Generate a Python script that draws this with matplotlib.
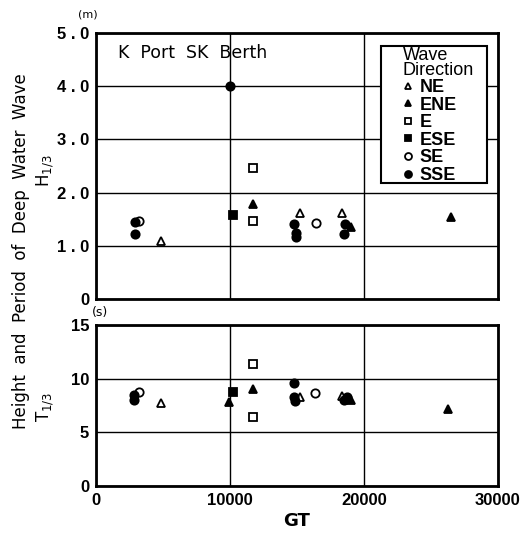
import matplotlib
matplotlib.use("Agg")
import matplotlib.pyplot as plt
from matplotlib.lines import Line2D
from matplotlib.patches import Rectangle

NARROW = ["Liberation Sans", "DejaVu Sans"]

# wave directions and marker styles
directions = ["NE", "ENE", "E", "ESE", "SE", "SSE"]
markers = {"NE": ("^", "white"), "ENE": ("^", "black"), "E": ("s", "white"),
           "ESE": ("s", "black"), "SE": ("o", "white"), "SSE": ("o", "black")}

# H1/3 (m) vs GT
h_gt = {
    "NE": [4850, 15200, 18350],
    "ENE": [11700, 19000, 26500],
    "E": [11700, 11700],
    "ESE": [10200],
    "SE": [3200, 16400],
    "SSE": [2900, 2900, 10000, 14800, 14900, 14900, 18600, 18500],
}
h_val = {
    "NE": [1.09, 1.62, 1.62],
    "ENE": [1.79, 1.35, 1.54],
    "E": [2.46, 1.47],
    "ESE": [1.58],
    "SE": [1.47, 1.43],
    "SSE": [1.45, 1.22, 4.0, 1.41, 1.25, 1.17, 1.42, 1.22],
}

# T1/3 (s) vs GT
t_gt = {
    "NE": [4850, 15200, 18350],
    "ENE": [9900, 11750, 19000, 26300],
    "E": [11700, 11700],
    "ESE": [10250],
    "SE": [3200, 16350],
    "SSE": [2800, 2800, 14800, 14800, 14850, 18700, 18500],
}
t_val = {
    "NE": [7.7, 8.3, 8.4],
    "ENE": [7.8, 9.0, 8.0, 7.2],
    "E": [11.4, 6.4],
    "ESE": [8.74],
    "SE": [8.74, 8.65],
    "SSE": [8.47, 8.0, 9.6, 8.3, 7.9, 8.3, 8.0],
}

fig = plt.figure(figsize=(5.2, 5.34), dpi=100)
ax1 = fig.add_axes([0.1846, 0.440, 0.773, 0.498])
ax2 = fig.add_axes([0.1846, 0.0899, 0.773, 0.3015])


def draw(ax, gt, val):
    for d in directions:
        m, fc = markers[d]
        ax.plot(gt[d], val[d], linestyle="none", marker=m, markersize=6,
                markerfacecolor=fc, markeredgecolor="black", markeredgewidth=1.3,
                zorder=3)
    ax.grid(True, color="black", linewidth=1.0)
    ax.set_axisbelow(True)
    for s in ax.spines.values():
        s.set_linewidth(2)
    ax.tick_params(length=0, pad=5)
    for lab in ax.get_xticklabels() + ax.get_yticklabels():
        lab.set_fontweight("bold")
        lab.set_family(NARROW)
        lab.set_fontsize(12)


ax1.set_xlim(0, 30000)
ax1.set_ylim(0, 5.0)
ax1.set_xticks([0, 10000, 20000, 30000])
ax1.set_yticks([0, 1, 2, 3, 4, 5])
ax1.set_yticklabels(["0", "1 . 0", "2 . 0", "3 . 0", "4 . 0", "5 . 0"])
ax1.set_xticklabels([])
draw(ax1, h_gt, h_val)
ax1.text(0.055, 0.925, "K  Port  SK  Berth", transform=ax1.transAxes,
         fontsize=12.5, va="center", ha="left")

# legend box drawn separately (wide side margins as in the original)
ax1.add_patch(Rectangle((0.709, 0.436), 0.264, 0.515, transform=ax1.transAxes,
                        facecolor="white", edgecolor="black", linewidth=1.5,
                        zorder=4))
handles = [Line2D([], [], linestyle="none", marker=markers[d][0], markersize=5,
                  markerfacecolor=markers[d][1], markeredgecolor="black",
                  markeredgewidth=1.3) for d in directions]
leg = ax1.legend(handles, directions, title="Wave\nDirection", loc="upper left",
                 bbox_to_anchor=(0.763, 0.948), frameon=False,
                 prop={"family": NARROW, "size": 13, "weight": "bold"},
                 title_fontproperties={"family": NARROW, "size": 13},
                 handlelength=0.6, handletextpad=0.35, labelspacing=0.03,
                 borderpad=0.0, alignment="left", borderaxespad=0)
leg.get_title().set_linespacing(0.82)
leg.set_zorder(5)

ax2.set_xlim(0, 30000)
ax2.set_ylim(0, 15)
ax2.set_xticks([0, 10000, 20000, 30000])
ax2.set_yticks([0, 5, 10, 15])
draw(ax2, t_gt, t_val)
ax2.set_xlabel("GT", fontsize=13, fontweight="bold", labelpad=3)

fig.text(0.168, 0.972, "(m)", fontsize=8, ha="center", va="center")
fig.text(0.192, 0.414, "(s)", fontsize=9, ha="center", va="center")
fig.text(0.04, 0.53, "Height  and  Period  of  Deep  Water  Wave", rotation=90,
         fontsize=12, ha="center", va="center")
fig.text(0.087, 0.68, r"H$_{1/3}$", rotation=90, fontsize=12, ha="center", va="center")
fig.text(0.087, 0.238, r"T$_{1/3}$", rotation=90, fontsize=12, ha="center", va="center")

fig.savefig("out.png", dpi=100)
